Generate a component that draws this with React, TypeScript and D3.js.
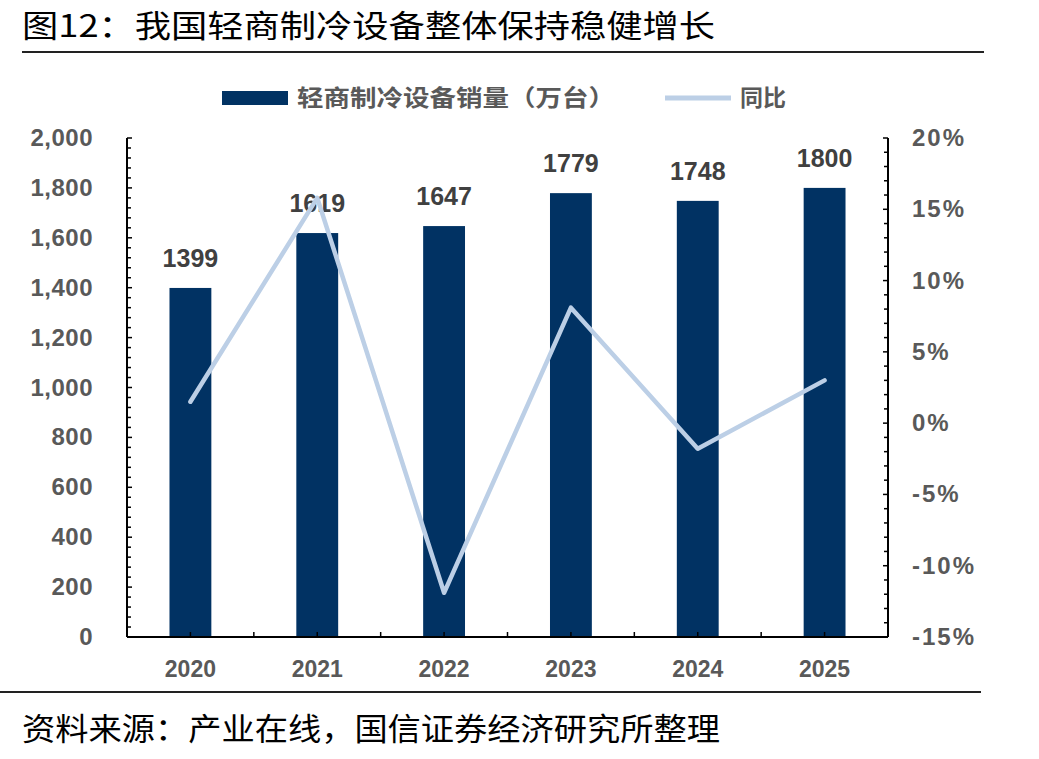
import React from "react";
import * as d3 from "d3";

const years = ["2020", "2021", "2022", "2023", "2024", "2025"];
const sales = [1399, 1619, 1647, 1779, 1748, 1800];
const yoy = [1.5, 15.8, -11.9, 8.1, -1.8, 3.0];
const leftTicks = [0, 200, 400, 600, 800, 1000, 1200, 1400, 1600, 1800, 2000];
const rightTicks = [-15, -10, -5, 0, 5, 10, 15, 20];

const W = 1039, H = 759;
const L = 127, R = 888, T = 138, B = 637;
const BAR = "#013263";
const LINE = "#BCCFE6";
const AXT = "#595959";
const AR = "Arial, 'Liberation Sans'";

export default function App() {
  const x = d3.scaleBand().domain(years).range([L, R]).paddingInner(0.67).paddingOuter(0.335);
  const xb = d3.scaleBand().domain(years).range([L, R]);
  const yL = d3.scaleLinear().domain([0, 2000]).range([B, T]);
  const yR = d3.scaleLinear().domain([-15, 20]).range([B, T]);
  const line = d3.line<number>().x((_, i) => (xb(years[i]) as number) + xb.bandwidth() / 2).y((d) => yR(d));
  const minorL = d3.range(0, 2001, 40);
  const minorR = d3.range(-15, 20.01, 1);
  const boundaries = d3.range(0, years.length + 1).map((i) => L + i * xb.step());
  return (
    <svg width={W} height={H} style={{ position: "absolute", left: 0, top: 0, background: "#fff" }}>
      <text x={22} y={37} fontFamily="'Noto Sans CJK SC'" fontSize={31} fill="#000" textLength={693} lengthAdjust="spacingAndGlyphs">图12：我国轻商制冷设备整体保持稳健增长</text>
      <line x1={22} x2={984} y1={52} y2={52} stroke="#222" strokeWidth={2} />
      {/* legend */}
      <rect x={222} y={91} width={66} height={14} fill={BAR} />
      <text x={297} y={106} fontFamily="'Noto Sans CJK SC'" fontWeight="bold" fontSize={23} fill={AXT} textLength={318} lengthAdjust="spacingAndGlyphs">轻商制冷设备销量（万台）</text>
      <line x1={665} x2={731} y1={98} y2={98} stroke={LINE} strokeWidth={5} />
      <text x={740} y={106} fontFamily="'Noto Sans CJK SC'" fontWeight="bold" fontSize={23} fill={AXT}>同比</text>
      {/* bars */}
      {sales.map((v, i) => (
        <g key={years[i]}>
          <rect x={x(years[i])} y={yL(v)} width={x.bandwidth()} height={B - yL(v)} fill={BAR} />
          <text x={(x(years[i]) as number) + x.bandwidth() / 2} y={yL(v) - 21} textAnchor="middle" fontFamily={AR} fontWeight="bold" fontSize={25} fill="#404040">{v}</text>
        </g>
      ))}
      <path d={line(yoy) || ""} fill="none" stroke={LINE} strokeWidth={4.5} strokeLinejoin="round" strokeLinecap="round" />
      {/* left axis */}
      <line x1={L} x2={L} y1={T} y2={B} stroke="#000" strokeWidth={2} />
      {minorL.map((v) => (
        <line key={"ml" + v} x1={L} x2={L + (v % 200 === 0 ? 5 : 4)} y1={yL(v)} y2={yL(v)} stroke="#000" strokeWidth={1.5} />
      ))}
      {leftTicks.map((v) => (
        <text key={"lt" + v} x={93} y={yL(v) + 8} textAnchor="end" fontFamily={AR} fontWeight="bold" fontSize={24} letterSpacing={0.5} fill={AXT}>{d3.format(",")(v)}</text>
      ))}
      {/* right axis */}
      <line x1={R} x2={R} y1={T} y2={B} stroke="#000" strokeWidth={2} />
      {minorR.map((v) => (
        <line key={"mr" + v} x1={R - (Math.round(v) % 5 === 0 ? 5 : 4)} x2={R} y1={yR(v)} y2={yR(v)} stroke="#000" strokeWidth={1.5} />
      ))}
      {rightTicks.map((v) => (
        <text key={"rt" + v} x={912} y={yR(v) + 8} fontFamily={AR} fontWeight="bold" fontSize={24} letterSpacing={2} fill={AXT}>{v + "%"}</text>
      ))}
      {/* x axis */}
      <line x1={L} x2={R} y1={B} y2={B} stroke="#000" strokeWidth={2} />
      {boundaries.map((bx, i) => (
        <line key={"xb" + i} x1={bx} x2={bx} y1={B} y2={B - 5} stroke="#000" strokeWidth={1.5} />
      ))}
      {years.map((yv) => (
        <g key={"xl" + yv}>
          <line x1={(xb(yv) as number) + xb.bandwidth() / 2} x2={(xb(yv) as number) + xb.bandwidth() / 2} y1={B} y2={B - 5} stroke="#000" strokeWidth={1.5} />
          <text x={(xb(yv) as number) + xb.bandwidth() / 2} y={677} textAnchor="middle" fontFamily={AR} fontWeight="bold" fontSize={23} fill={AXT}>{yv}</text>
        </g>
      ))}
      <line x1={0} x2={981} y1={692} y2={692} stroke="#222" strokeWidth={2} />
      <text x={22} y={740} fontFamily="'Noto Sans CJK SC'" fontSize={31} fill="#000" textLength={698} lengthAdjust="spacingAndGlyphs">资料来源：产业在线，国信证券经济研究所整理</text>
    </svg>
  );
}
